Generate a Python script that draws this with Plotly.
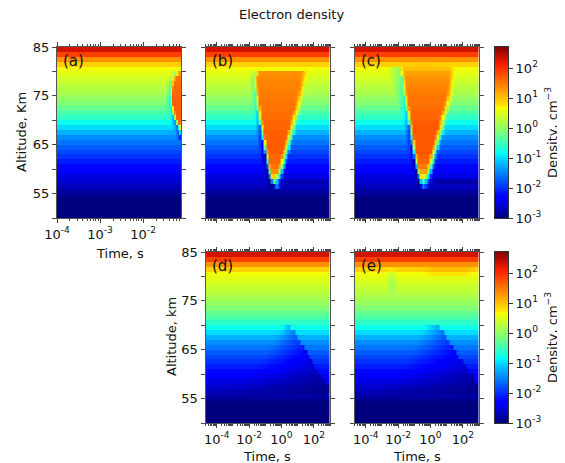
import numpy as np
import plotly.graph_objects as go

W, H = 565, 463
BODY = 8  # the page's default body margin
FIG_W, FIG_H = W - BODY, H - BODY
altitudes = list(range(50, 85))  # lower edge of each 1 km band
background = [-3.0, -3.0, -3.0, -3.0, -2.95, -2.83, -2.7, -2.6, -2.5, -2.38, -2.26, -2.13, -2.0, -1.88, -1.75, -1.6,
              -1.46, -1.25, -1.0, -0.8, -0.6, -0.45, -0.3, -0.12, 0.0, 0.13, 0.22, 0.32, 0.42, 0.52, 0.62, 0.87, 1.3,
              1.85, 2.3]

a_alt = [79, 78, 77, 76, 75, 74, 73, 72, 71, 70, 69, 68, 67, 66]
a_left = [-1.22, -1.3, -1.33, -1.35, -1.36, -1.37, -1.36, -1.33, -1.31, -1.28, -1.24, -1.19, -1.15, -1.12]
a_level = [1.3, 1.5, 1.55, 1.6, 1.6, 1.65, 1.65, 1.65, 1.65, 1.6, 1.45, 1.0, 0.2, -0.8]

b_alt = [79, 78, 77, 76, 75, 74, 73, 72, 71, 70, 69, 68, 67, 66, 65, 64, 63, 62, 61, 60, 59, 58, 57, 56]
b_left = [-1.55, -1.69, -1.66, -1.63, -1.6, -1.56, -1.52, -1.48, -1.44, -1.40, -1.35, -1.30, -1.25, -1.21, -1.16,
          -1.11, -1.05, -1.00, -0.95, -0.90, -0.83, -0.77, -0.65, -0.49]
b_right = [1.69, 1.63, 1.58, 1.52, 1.45, 1.37, 1.30, 1.23, 1.15, 1.06, 0.99, 0.92, 0.84, 0.75, 0.67, 0.59, 0.52, 0.44,
           0.36, 0.28, 0.18, 0.09, -0.03, 0.03]
b_level = [1.3, 1.35, 1.4, 1.4, 1.45, 1.45, 1.5, 1.5, 1.55, 1.55, 1.6, 1.6, 1.65, 1.65, 1.65, 1.65, 1.65, 1.6, 1.6,
           1.5, 1.3, 0.9, 0.1, -1.0]

c_alt = [80, 79, 78, 77, 76, 75, 74, 73, 72, 71, 70, 69, 68, 67, 66, 65, 64, 63, 62, 61, 60, 59, 58, 57, 56]
c_left = [-1.85, -1.81, -1.76, -1.71, -1.67, -1.63, -1.58, -1.53, -1.49, -1.44, -1.40, -1.35, -1.31, -1.26, -1.22,
          -1.18, -1.13, -1.09, -1.04, -1.00, -0.93, -0.86, -0.78, -0.70, -0.63]
c_right = [1.6, 1.58, 1.55, 1.52, 1.49, 1.44, 1.36, 1.28, 1.20, 1.12, 1.03, 0.97, 0.92, 0.83, 0.74, 0.66, 0.57, 0.49,
           0.41, 0.34, 0.25, 0.17, 0.09, 0.0, -0.05]
c_level = [1.0, 1.2, 1.3, 1.35, 1.4, 1.45, 1.5, 1.5, 1.55, 1.6, 1.6, 1.65, 1.7, 1.7, 1.7, 1.7, 1.7, 1.7, 1.65,
           1.6, 1.45, 1.2, 0.7, -0.2, -1.2]
c_halo = [0.85, 0.8, 0.75, 0.7, 0.65, 0.6, 0.55, 0.5, 0.45, 0.42, 0.38, 0.35, 0.32, 0.3, 0.3, 0.28, 0.25, 0.25, 0.22,
          0.2, 0.2, 0.2, 0.2, 0.2, 0.2]

wedge_alt_d = [69, 68, 67, 66, 65, 64, 63, 62, 61, 60, 59, 58, 57, 56]
wedge_left_d = [0.0, -0.2, -0.4, -0.55, -0.7, -0.8, -1.0, -1.2, -1.4, -1.6, -2.0, -2.6, -3.2, -4.0]
wedge_right_d = [0.6, 0.9, 1.05, 1.2, 1.4, 1.55, 1.7, 1.85, 2.05, 2.25, 2.45, 2.65, 2.9, 3.0]
wedge_min_d = [-1.3, -1.6, -1.8, -2.0, -2.15, -2.3, -2.4, -2.5, -2.6, -2.7, -2.8, -2.85, -2.9, -2.95]

wedge_alt_e = [69, 68, 67, 66, 65, 64, 63, 62, 61, 60, 59, 58, 57, 56]
wedge_left_e = [-0.4, -0.5, -0.65, -0.8, -0.95, -1.1, -1.25, -1.4, -1.6, -1.8, -2.1, -2.6, -3.2, -4.0]
wedge_right_e = [0.5, 0.8, 1.0, 1.2, 1.4, 1.6, 1.8, 2.0, 2.2, 2.4, 2.6, 2.8, 3.0, 3.0]
wedge_min_e = [-1.3, -1.6, -1.8, -2.0, -2.15, -2.3, -2.4, -2.5, -2.6, -2.7, -2.8, -2.85, -2.9, -2.95]

plume_alt_e = [81, 80, 79, 78, 77, 76, 75]
plume_center_e = [-2.45, -2.42, -2.4, -2.38, -2.36, -2.35, -2.35]
plume_width_e = [0.5, 0.45, 0.42, 0.38, 0.34, 0.3, 0.25]
plume_depth_e = [0.15, 0.25, 0.35, 0.35, 0.25, 0.12, 0.05]

bar_ticks = [-3, -2, -1, 0, 1, 2]
jet = [[0, "rgb(0,0,127)"], [0.11, "rgb(0,0,255)"], [0.125, "rgb(0,0,255)"], [0.35, "rgb(0,219,255)"],
       [0.375, "rgb(0,255,246)"], [0.5, "rgb(124,255,121)"], [0.64, "rgb(246,255,0)"], [0.65, "rgb(255,234,0)"],
       [0.89, "rgb(255,30,0)"], [1, "rgb(127,0,0)"]]
ZMIN, ZMAX = -3.0, 2.7
AXIS_LINE = "#555555"
FONT = "DejaVu Sans"
SIZE = 13


def fx(px):
    return (px - BODY) / FIG_W


def fy(py):
    return 1 - (py - BODY) / FIG_H


def blank(edges):
    return np.tile(np.array(background)[:, None], (1, len(edges) - 1))


def add_blob(z, edges, alts, left, right, level, halo, fade, ramp):
    mid = (edges[:-1] + edges[1:]) / 2
    for i, alt in enumerate(alts):
        r = altitudes.index(alt)
        base = z[r].copy()
        h = halo[i] if isinstance(halo, list) else halo
        inner = np.clip((mid - left[i]) / ramp, 0, 1)
        if right is not None:
            inner = inner * np.clip((right[i] - mid) / fade, 0, 1)
        dip = np.clip((mid - (left[i] - h)) / h, 0, 1) * (mid < left[i])
        z[r] = base - 0.7 * dip
        z[r] = z[r] * (1 - inner) + level[i] * inner
    return z


def add_wedge(z, edges, alts, left, right, lows):
    mid = (edges[:-1] + edges[1:]) / 2
    for i, alt in enumerate(alts):
        r = altitudes.index(alt)
        t = np.clip((mid - left[i]) / (right[i] - left[i]), 0, 1)
        inside = mid < right[i]
        z[r] = np.where(inside, z[r] + (lows[i] - z[r]) * t, z[r])
    return z


edges_a = np.arange(-4.0, -1.10, 0.04)
edges_w = np.arange(-4.7, 3.04, 0.15)
mid_w = (edges_w[:-1] + edges_w[1:]) / 2

z_a = add_blob(blank(edges_a), edges_a, a_alt, a_left, None, a_level, 0.12, 0.1, 0.06)
z_b = add_blob(blank(edges_w), edges_w, b_alt, b_left, b_right, b_level, 0.3, 0.45, 0.2)
z_c = add_blob(blank(edges_w), edges_w, c_alt, c_left, c_right, c_level, c_halo, 0.45, 0.2)
z_d = add_wedge(blank(edges_w), edges_w, wedge_alt_d, wedge_left_d, wedge_right_d, wedge_min_d)
z_e = add_wedge(blank(edges_w), edges_w, wedge_alt_e, wedge_left_e, wedge_right_e, wedge_min_e)
for i, alt in enumerate(plume_alt_e):
    r = altitudes.index(alt)
    z_e[r] -= plume_depth_e[i] * np.clip(1 - np.abs(mid_w - plume_center_e[i]) / plume_width_e[i], 0, 1)
r81 = altitudes.index(81)
patch = np.clip((mid_w + 0.6) / 0.8, 0, 1) * np.clip((2.9 - mid_w) / 0.8, 0, 1)
z_e[r81] += 0.15 * patch
z_e[r81 - 1] += 0.12 * patch
z_c[r81] += 0.08 * np.clip(1 - np.abs(mid_w + 0.3) / 1.5, 0, 1)

# right of the tip the low layer is a little darker in (b) and (c)
for z, level in [(z_b, -2.75), (z_c, -2.8)]:
    r = altitudes.index(57)
    z[r] = np.where(mid_w > 0.2, level, z[r])

panels = [
    ("a", z_a, edges_a, (57, 181, 47, 218), (-4, -1.12), [-4, -3, -2], True),
    ("b", z_b, edges_w, (205.5, 330, 47, 218), (-4.7, 3), [], False),
    ("c", z_c, edges_w, (354.5, 479, 47, 218), (-4.7, 3), [], False),
    ("d", z_d, edges_w, (205.5, 330, 252, 423), (-4.7, 3), [-4, -2, 0, 2], True),
    ("e", z_e, edges_w, (354.5, 479, 252, 423), (-4.7, 3), [-4, -2, 0, 2], False),
]
bars = [(495, 508, 47, 218), (495, 508, 252, 423)]
texts = [
    ("Electron density", 291, 15, 0),
    ("Time, s", 120, 253, 0),
    ("Time, s", 267, 456, 0),
    ("Time, s", 417, 456, 0),
    ("Altitude, Km", 22, 132, -90),
    ("Altitude, km", 171, 337, -90),
]

fig = go.Figure()
layout = dict(template="none", width=FIG_W, height=FIG_H, margin=dict(l=0, r=0, t=0, b=0, pad=0), autosize=False,
              paper_bgcolor="white", plot_bgcolor="white", font=dict(family=FONT, size=SIZE, color="#111111"),
              showlegend=False)
annotations = [dict(text=s, x=fx(px), y=fy(py), xref="paper", yref="paper", showarrow=False, textangle=ang,
                    xanchor="center", yanchor="middle", font=dict(size=SIZE, family=FONT, color="#111111"))
               for s, px, py, ang in texts]

y_edges = [50 + i for i in range(36)]
n = 0
for name, z, edges, box, xr, xt, ylab in panels:
    n += 1
    l, r, t, b = box
    xk, yk = ("x" if n == 1 else f"x{n}"), ("y" if n == 1 else f"y{n}")
    fig.add_trace(go.Heatmap(z=z, x=10.0 ** edges, y=y_edges, colorscale=jet, zmin=ZMIN, zmax=ZMAX, xaxis=xk,
                             yaxis=yk, hoverinfo="skip", showscale=False))
    minor_vals = [10.0 ** d * m for d in range(-5, 4) for m in range(2, 10)]
    if name != "a":
        minor_vals += [10.0 ** d for d in (-3, -1, 1, 3)]
    layout["xaxis" + ("" if n == 1 else str(n))] = dict(
        type="log", domain=[fx(l), fx(r)], range=list(xr), anchor=yk, showgrid=False, zeroline=False, automargin=False,
        tickmode="array", tickvals=[10.0 ** v for v in (xt or [-4, -2, 0, 2])],
        ticktext=[f"10<sup>{v}</sup>" for v in xt] if xt else ["", "", "", ""],
        ticks="outside", ticklen=4, tickcolor="#444444", tickfont=dict(size=SIZE, family=FONT),
        showline=True, linecolor=AXIS_LINE, linewidth=1, mirror="allticks",
        minor=dict(tickmode="array", tickvals=minor_vals, ticks="outside", ticklen=2, tickcolor="#444444",
                   showgrid=False))
    layout["yaxis" + ("" if n == 1 else str(n))] = dict(
        domain=[fy(b), fy(t)], range=[50, 85], anchor=xk, showgrid=False, zeroline=False, automargin=False,
        tickmode="array", tickvals=[50, 55, 60, 65, 70, 75, 80, 85],
        ticktext=["", "55", "", "65", "", "75", "", "85"] if ylab else [""] * 8,
        ticks="outside", ticklen=4, tickcolor="#444444", tickfont=dict(size=SIZE, family=FONT),
        showline=True, linecolor=AXIS_LINE, linewidth=1, mirror="allticks")
    annotations.append(dict(text=f"({name})", x=fx(l + 16.5), y=fy(t + 14), xref="paper", yref="paper",
                            xanchor="center", yanchor="middle", showarrow=False,
                            font=dict(size=15, family=FONT, color="#111111")))

bar_levels = np.arange(ZMIN, ZMAX + 0.01, 0.05)
for l, r, t, b in bars:
    n += 1
    xk, yk = f"x{n}", f"y{n}"
    fig.add_trace(go.Heatmap(z=bar_levels[:-1, None], x=[0, 1], y=10.0 ** bar_levels, colorscale=jet, zmin=ZMIN,
                             zmax=ZMAX, xaxis=xk, yaxis=yk, hoverinfo="skip", showscale=False))
    layout[f"xaxis{n}"] = dict(domain=[fx(l), fx(r)], range=[0, 1], anchor=yk, showgrid=False, zeroline=False,
                               automargin=False, showticklabels=False, ticks="", showline=True, linecolor="#333333",
                               linewidth=1, mirror=True)
    layout[f"yaxis{n}"] = dict(type="log", domain=[fy(b), fy(t)], range=[ZMIN, ZMAX], anchor=xk, side="right",
                               showgrid=False, zeroline=False, automargin=False, tickmode="array",
                               tickvals=[10.0 ** v for v in bar_ticks],
                               ticktext=[f"10<sup>{v}</sup>" for v in bar_ticks], ticks="outside", ticklen=4,
                               tickcolor="#333333", tickfont=dict(size=SIZE, family=FONT), showline=True,
                               linecolor="#333333", linewidth=1, mirror=True,
                               title=dict(text="Density, cm<sup>−3</sup>", font=dict(size=SIZE, family=FONT)))

layout["annotations"] = annotations
fig.update_layout(**layout)
fig.write_html("out.html", post_script="document.documentElement.style.overflow='hidden';")
